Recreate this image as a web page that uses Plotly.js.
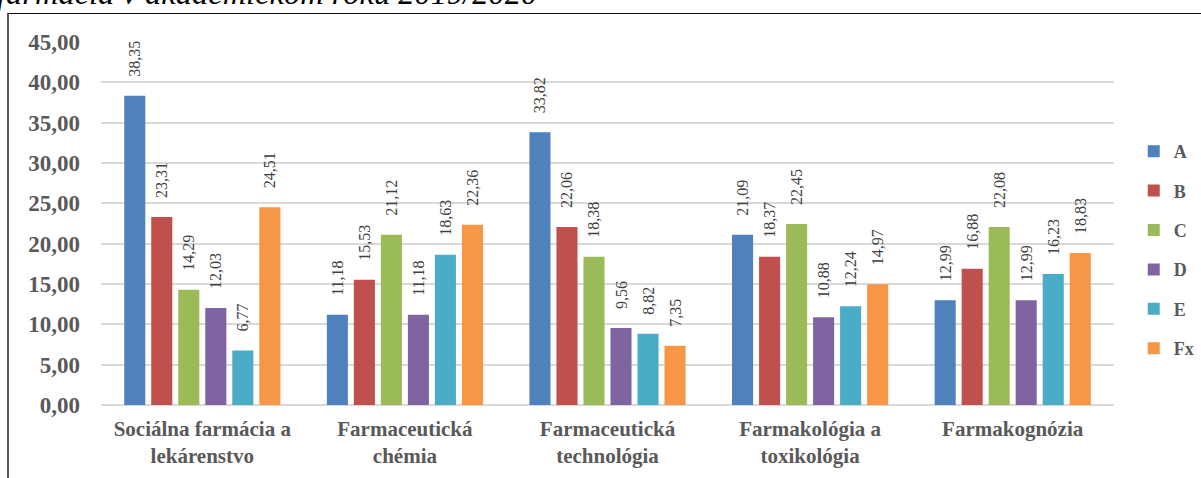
<!DOCTYPE html>
<html>
<head>
<meta charset="utf-8">
<script src="https://cdn.plot.ly/plotly-3.0.1.min.js"></script>
<style>
  html, body { margin:0; padding:0; background:#fff; overflow:hidden; }
  #wrap { position:relative; width:1201px; height:478px; }
  #chart { position:absolute; left:0; top:0; width:1201px; height:478px; }
  #frame { position:absolute; left:7px; top:13px; width:1300px; height:600px;
           border-left:2px solid #595959; border-top:1.5px solid #111; pointer-events:none; }
  #cap { position:absolute; left:-3px; top:-25px; font-family:"Liberation Serif", "Times New Roman", serif;
         font-style:italic; font-size:32.5px; color:#000; white-space:nowrap; }
</style>
</head>
<body>
<div id="wrap">
  <div id="chart"></div>
  <div id="frame"></div>
  <div id="cap">farmácia v akademickom roku 2019/2020</div>
</div>
<script>
const categories = ["Sociálna farmácia a<br>lekárenstvo", "Farmaceutická<br>chémia", "Farmaceutická<br>technológia", "Farmakológia a<br>toxikológia", "Farmakognózia"];
const seriesNames = ["A", "B", "C", "D", "E", "Fx"];
const valuesA  = [38.35, 11.18, 33.82, 21.09, 12.99];
const valuesB  = [23.31, 15.53, 22.06, 18.37, 16.88];
const valuesC  = [14.29, 21.12, 18.38, 22.45, 22.08];
const valuesD  = [12.03, 11.18, 9.56, 10.88, 12.99];
const valuesE  = [6.77, 18.63, 8.82, 12.24, 16.23];
const valuesFx = [24.51, 22.36, 7.35, 14.97, 18.83];
const yTicks = [0, 5, 10, 15, 20, 25, 30, 35, 40, 45];

const allValues = [valuesA, valuesB, valuesC, valuesD, valuesE, valuesFx];
const colors = ["#4F81BD", "#C0504D", "#9BBB59", "#8064A2", "#4BACC6", "#F79646"];
const pad = "\u00A0\u00A0\u00A0\u00A0";
const serif = "Liberation Serif, Times New Roman, serif";

const traces = allValues.map((vals, i) => ({
  type: "bar",
  name: seriesNames[i],
  legendgroup: seriesNames[i],
  x: categories,
  y: vals,
  text: vals.map(v => pad + v.toFixed(2).replace(".", ",")),
  textposition: "outside",
  textangle: -90,
  constraintext: "none",
  cliponaxis: false,
  textfont: { family: serif, size: 16, color: "#404040" },
  marker: { color: colors[i], line: { width: 0 } },
  hoverinfo: "skip"
}));

const layout = {
  width: 1201, height: 478,
  margin: { l: 101, r: 87, t: 42, b: 73, autoexpand: false },
  paper_bgcolor: "rgba(0,0,0,0)",
  plot_bgcolor: "#fff",
  separators: ", ",
  barmode: "group",
  bargap: 0.2,
  bargroupgap: 0.22,
  showlegend: true,
  legend: {
    xref: "container", yref: "container",
    x: 0.944, xanchor: "left", y: 0.477, yanchor: "middle",
    font: { family: serif, size: 18, color: "#595959", weight: "bold" },
    tracegroupgap: 13, itemwidth: 30
  },
  xaxis: {
    type: "category",
    showgrid: false, showline: false, zeroline: false, ticks: "",
    tickfont: { family: serif, size: 21, color: "#595959", weight: "bold" },
    ticklabelstandoff: 9,
    fixedrange: true
  },
  yaxis: {
    range: [0, 45], tickvals: yTicks, tickformat: ".2f",
    showgrid: true, gridcolor: "#D9D9D9", gridwidth: 2,
    zeroline: true, zerolinecolor: "#D9D9D9", zerolinewidth: 2,
    showline: false, ticks: "",
    tickfont: { family: serif, size: 23, color: "#595959", weight: "bold" },
    ticklabelstandoff: 20,
    fixedrange: true
  }
};

Plotly.newPlot("chart", traces, layout, { displayModeBar: false, staticPlot: true });
</script>
</body>
</html>
